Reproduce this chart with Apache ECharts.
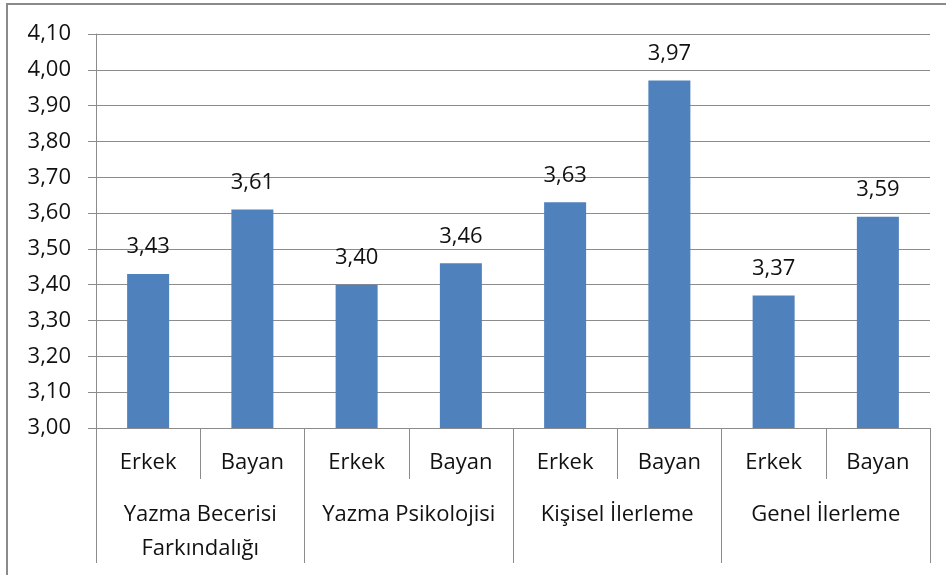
<!DOCTYPE html>
<html>
<head>
<meta charset="utf-8">
<script src="https://cdn.jsdelivr.net/npm/echarts@6/dist/echarts.min.js"></script>
<style>
  html, body { margin: 0; padding: 0; background: #fff; }
  #chart { width: 946px; height: 575px; }
</style>
</head>
<body>
<div id="chart"></div>
<script>
  // alt kategoriler (cinsiyet) ve ust gruplar
  var subLabels = ['Erkek', 'Bayan', 'Erkek', 'Bayan', 'Erkek', 'Bayan', 'Erkek', 'Bayan'];
  var groupLabels = ['Yazma Becerisi\nFarkındalığı', 'Yazma Psikolojisi', 'Kişisel İlerleme', 'Genel İlerleme'];
  var means = [3.43, 3.61, 3.40, 3.46, 3.63, 3.97, 3.37, 3.59];

  var gray = '#8c8c8c';
  var font = '"Open Sans", "Noto Sans", sans-serif';

  function comma(v) {
    return Number(v).toFixed(2).replace('.', ',');
  }

  var myChart = echarts.init(document.getElementById('chart'));
  var option = {
    animation: false,
    grid: {
      left: 96,
      right: 16,
      top: 34,
      bottom: 147
    },
    xAxis: [{
      type: 'category',
      data: subLabels,
      position: 'bottom',
      axisLine: { lineStyle: { color: gray, width: 1 } },
      axisTick: { show: true, interval: 0, length: 51, lineStyle: { color: gray } },
      axisLabel: {
        interval: 0,
        margin: 22,
        color: '#111',
        fontFamily: font,
        fontSize: 22,
        lineHeight: 26
      }
    }, {
      type: 'category',
      data: groupLabels,
      position: 'bottom',
      axisLine: { show: false },
      axisTick: { show: true, interval: 0, length: 135, lineStyle: { color: gray } },
      axisLabel: {
        interval: 0,
        margin: 70,
        color: '#111',
        fontFamily: font,
        fontSize: 22,
        lineHeight: 34
      }
    }],
    yAxis: {
      type: 'value',
      min: 3.0,
      max: 4.1,
      interval: 0.1,
      axisLine: { show: true, lineStyle: { color: gray } },
      axisTick: { show: true, length: 8, lineStyle: { color: gray } },
      axisLabel: {
        margin: 25,
        color: '#111',
        fontFamily: font,
        fontSize: 22,
        formatter: function (v) { return comma(v); }
      },
      splitLine: { show: true, lineStyle: { color: gray, width: 1 } }
    },
    series: [{
      type: 'bar',
      xAxisIndex: 0,
      data: means,
      barWidth: 42,
      itemStyle: { color: '#4F81BD' },
      label: {
        show: true,
        position: 'top',
        distance: 16,
        color: '#111',
        fontFamily: font,
        fontSize: 22,
        formatter: function (p) { return comma(p.value); }
      }
    }],
    graphic: [{
      type: 'polyline',
      silent: true,
      shape: { points: [[7, 575], [7, 4], [946, 4]] },
      style: { stroke: '#8a8a8a', lineWidth: 2, fill: null }
    }]
  };
  myChart.setOption(option, true);
</script>
</body>
</html>
